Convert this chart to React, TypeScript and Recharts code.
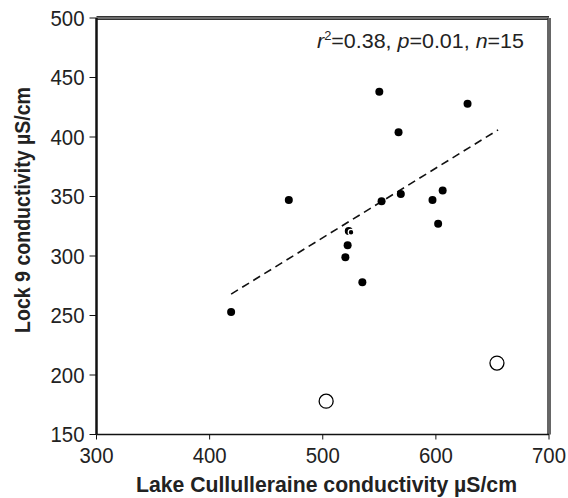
import React from "react";
import { ScatterChart, Scatter, XAxis, YAxis, ReferenceLine, Customized } from "recharts";

const FONT = "'Liberation Sans', Arial, Helvetica, sans-serif";

const xTicks = [300, 400, 500, 600, 700];
const yTicks = [150, 200, 250, 300, 350, 400, 450, 500];

// Lake Cullulleraine (x) vs Lock 9 (y) conductivity, µS/cm
const lakeFilled = [419, 470, 520, 522, 523, 535, 550, 552, 567, 569, 597, 602, 606, 628];
const lockFilled = [253, 347, 299, 309, 321, 278, 438, 346, 404, 352, 347, 327, 355, 428];
const lakeOverlap = [525];
const lockOverlap = [320];
const lakeOpen = [503, 654];
const lockOpen = [178, 210];
const fitLake = [419, 655];
const fitLock = [268, 406];

const filled = lakeFilled.map((x, i) => ({ x, y: lockFilled[i] }));
const overlap = lakeOverlap.map((x, i) => ({ x, y: lockOverlap[i] }));
const open = lakeOpen.map((x, i) => ({ x, y: lockOpen[i] }));
const fit = fitLake.map((x, i) => ({ x, y: fitLock[i] }));

const FilledDot = (props: any) => <circle cx={props.cx} cy={props.cy} r={4} fill="#000" />;
const OverlapDot = (props: any) => (
  <circle cx={props.cx} cy={props.cy} r={2.8} fill="#000" stroke="#fff" strokeWidth={1.2} />
);
const OpenDot = (props: any) => (
  <circle cx={props.cx} cy={props.cy} r={7} fill="#fff" stroke="#000" strokeWidth={1.3} />
);

function YTick({ x, y, payload }: any) {
  return (
    <text x={x} y={y} dy={7.8} textAnchor="end" fontSize={22} fill="#222" fontFamily={FONT}
      textLength={34} lengthAdjust="spacingAndGlyphs">
      {payload.value}
    </text>
  );
}

function XTick({ x, y, payload }: any) {
  return (
    <text x={x - 17} y={y} dy={15.6} textAnchor="start" fontSize={22} fill="#222" fontFamily={FONT}
      textLength={34} lengthAdjust="spacingAndGlyphs">
      {payload.value}
    </text>
  );
}

function Texts() {
  return (
    <g fontFamily={FONT} fill="#222">
      <text x={317} y={48} fontSize={20} textLength={207} lengthAdjust="spacingAndGlyphs">
        <tspan fontStyle="italic">r</tspan>
        <tspan fontSize={12} dy={-8}>2</tspan>
        <tspan dy={8}>=0.38, </tspan>
        <tspan fontStyle="italic">p</tspan>
        <tspan>=0.01, </tspan>
        <tspan fontStyle="italic">n</tspan>
        <tspan>=15</tspan>
      </text>
      <text x={136} y={492} fontSize={21.5} fontWeight="bold" textLength={381} lengthAdjust="spacingAndGlyphs">
        Lake Cullulleraine conductivity µS/cm
      </text>
      <text x={30} y={333} fontSize={22} fontWeight="bold" transform="rotate(-90 30 333)"
        textLength={246} lengthAdjust="spacingAndGlyphs">
        Lock 9 conductivity µS/cm
      </text>
    </g>
  );
}

export default function App() {
  return (
    <div style={{ position: "absolute", left: 0, top: 0, background: "#fff" }}>
      <ScatterChart width={568} height={498} margin={{ top: 18, right: 19, bottom: 0, left: 10.5 }}>
        <XAxis
          type="number"
          dataKey="x"
          domain={[300, 700]}
          ticks={xTicks}
          allowDataOverflow
          height={63.5}
          tickSize={5}
          tickMargin={8}
          tick={<XTick />}
          axisLine={{ stroke: "#111", strokeWidth: 1.5 }}
          tickLine={{ stroke: "#111", strokeWidth: 1 }}
        />
        <YAxis
          type="number"
          dataKey="y"
          domain={[150, 500]}
          ticks={yTicks}
          allowDataOverflow
          width={86}
          tickSize={7}
          tickMargin={5}
          tick={<YTick />}
          axisLine={{ stroke: "#111", strokeWidth: 2.5 }}
          tickLine={{ stroke: "#111", strokeWidth: 1 }}
        />
        <ReferenceLine y={500} stroke="#333" strokeWidth={4} />
        <ReferenceLine y={500} stroke="#aaa" strokeWidth={1.2} />
        <ReferenceLine x={700} stroke="#333" strokeWidth={3.5} />
        <ReferenceLine x={700} stroke="#999" strokeWidth={1} />
        <ReferenceLine
          segment={fit}
          stroke="#111"
          strokeWidth={1.6}
          strokeDasharray="8 5"
        />
        <Scatter data={filled} shape={FilledDot} isAnimationActive={false} />
        <Scatter data={overlap} shape={OverlapDot} isAnimationActive={false} />
        <Scatter data={open} shape={OpenDot} isAnimationActive={false} />
        <Customized component={Texts} />
      </ScatterChart>
    </div>
  );
}
